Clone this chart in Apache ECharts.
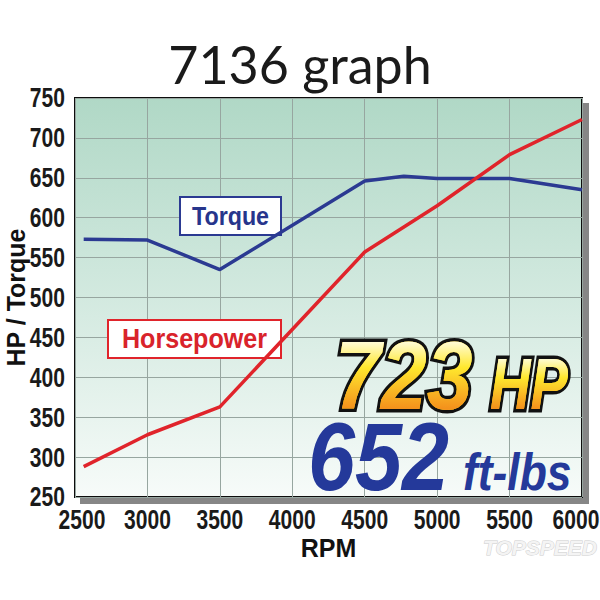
<!DOCTYPE html>
<html><head><meta charset="utf-8">
<script src="https://cdn.jsdelivr.net/npm/echarts@6/dist/echarts.min.js"></script>
<style>html,body{margin:0;padding:0;background:#fff}#c{width:600px;height:600px}</style>
</head><body><div id="c"></div>
<script>
// Data
var titleText = '7136 graph';
var xTicks = [2500, 3000, 3500, 4000, 4500, 5000, 5500, 6000];
var yTicks = [250, 300, 350, 400, 450, 500, 550, 600, 650, 700, 750];
var torqueRpm = [2560, 3000, 3500, 4500, 4770, 5000, 5500, 6000];
var torqueVals = [573, 572, 535, 646, 652, 649, 649, 635];
var hpRpm = [2560, 3000, 3500, 4500, 5000, 5500, 6000];
var hpVals = [288, 328, 363, 557, 615, 679, 723];
var peakHp = '723';
var peakTq = '652';

var chart = echarts.init(document.getElementById('c'), null, {renderer: 'svg'});
var sansB = '"Liberation Sans", Arial, sans-serif';
function pairs(xs, ys) { return xs.map(function (x, i) { return [x, ys[i]]; }); }

chart.setOption({
  animation: false,
  backgroundColor: '#fff',
  title: {
    text: titleText, left: 'center', top: 33,
    textStyle: {fontFamily: 'Lato, sans-serif', fontWeight: 'normal', fontSize: 52, color: '#1a1a1a'}
  },
  grid: {
    left: 75, right: 18, top: 98, bottom: 103, show: true, containLabel: false, outerBoundsMode: 'none',
    borderColor: '#111', borderWidth: 2,
    backgroundColor: new echarts.graphic.LinearGradient(0, 0, 0, 1, [
      {offset: 0, color: '#b0d8c6'}, {offset: 0.55, color: '#d6ebe2'}, {offset: 1, color: '#f7fbf9'}
    ]),
    shadowColor: 'rgba(70,70,70,0.65)', shadowOffsetX: 6, shadowOffsetY: 6, shadowBlur: 1
  },
  xAxis: {
    type: 'value', min: xTicks[0], max: xTicks[xTicks.length - 1], interval: 500,
    name: 'RPM', nameLocation: 'middle', nameGap: 38, nameMoveOverlap: false,
    nameTextStyle: {fontFamily: sansB, fontWeight: 'bold', fontSize: 25, color: '#111'},
    axisLine: {show: false}, axisTick: {show: false}, axisLabel: {show: false},
    splitLine: {lineStyle: {color: '#97a6a0', width: 1}}
  },
  yAxis: {
    type: 'value', min: yTicks[0], max: yTicks[yTicks.length - 1], interval: 50,
    name: 'HP / Torque', nameLocation: 'middle', nameGap: 47, nameRotate: 90, nameMoveOverlap: false,
    nameTextStyle: {fontFamily: sansB, fontWeight: 'bold', fontSize: 25, color: '#111'},
    axisLine: {show: false}, axisTick: {show: false}, axisLabel: {show: false},
    splitLine: {lineStyle: {color: '#97a6a0', width: 1}}
  },
  series: [
    {type: 'line', name: 'Torque', data: pairs(torqueRpm, torqueVals), symbol: 'none',
     lineStyle: {color: '#2b3a92', width: 3.5}},
    {type: 'line', name: 'Horsepower', data: pairs(hpRpm, hpVals), symbol: 'none',
     lineStyle: {color: '#e0242b', width: 3.5}}
  ]
});

// Tick labels (condensed look), positioned through the chart's own scales
var g = [];
var labelFont = 'bold 27px ' + sansB;
yTicks.forEach(function (v) {
  var p = chart.convertToPixel({gridIndex: 0}, [xTicks[0], v]);
  g.push({type: 'text', x: 65, y: p[1], scaleX: 0.78, style: {text: String(v), align: 'right', verticalAlign: 'middle',
    font: labelFont, fill: '#1a1a1a'}});
});
xTicks.forEach(function (v) {
  var p = chart.convertToPixel({gridIndex: 0}, [v, yTicks[0]]);
  var cx = Math.min(Math.max(p[0], 82), 576);
  g.push({type: 'text', x: cx, y: 520, scaleX: 0.78, style: {text: String(v), align: 'center', verticalAlign: 'middle',
    font: labelFont, fill: '#1a1a1a'}});
});

var YELLOW = '#ffd31b';
function bigOutlined(text, x, y, size, sx) {
  var font = 'italic bold ' + size + 'px ' + sansB;
  g.push({type: 'group', x: x, y: y, scaleX: sx, z: 100, children: [
    {type: 'text', z: 100, style: {text: text, align: 'left', verticalAlign: 'middle', font: font,
      fill: '#ffd21a', stroke: '#111', lineWidth: 7, lineJoin: 'round'}},
    {type: 'text', z: 100, style: {text: text, align: 'left', verticalAlign: 'middle', font: font, fill: YELLOW}}
  ]});
}
function big(text, x, y, size, sx, fill) {
  g.push({type: 'text', x: x, y: y, scaleX: sx, z: 101, style: {text: text, align: 'left', verticalAlign: 'middle',
    font: 'italic bold ' + size + 'px ' + sansB, fill: fill}});
}

g.push({type: 'group', x: 180, y: 197, children: [
  {type: 'rect', shape: {x: 0, y: 0, width: 101, height: 38}, style: {fill: '#fff', stroke: '#2b3a92', lineWidth: 2}},
  {type: 'text', x: 50.5, y: 19, scaleX: 0.93, style: {text: 'Torque', align: 'center', verticalAlign: 'middle',
    font: 'bold 25px ' + sansB, fill: '#27358c'}}
]});
g.push({type: 'group', x: 108, y: 320, children: [
  {type: 'rect', shape: {x: 0, y: 0, width: 173, height: 38}, style: {fill: '#fff', stroke: '#e0242b', lineWidth: 2}},
  {type: 'text', x: 86.5, y: 19, scaleX: 0.93, style: {text: 'Horsepower', align: 'center', verticalAlign: 'middle',
    font: 'bold 27px ' + sansB, fill: '#d9232b'}}
]});

bigOutlined(peakHp, 335, 376, 96, 0.86);
bigOutlined('HP', 490, 384, 72, 0.78);
big(peakTq, 308, 457, 96, 0.88, '#24399a');
big('ft-lbs', 463, 472, 51, 0.87, '#24399a');

g.push({type: 'text', x: 597, y: 547, style: {text: 'TOPSPEED', align: 'right', verticalAlign: 'middle',
  font: 'italic bold 21px ' + sansB, fill: '#f4f4f4', stroke: '#cdcdcd', lineWidth: 1}});

chart.setOption({graphic: g});

// Vertical yellow-to-orange gradient on the yellow figures; falls back to plain yellow if unsupported
var zr = chart.getZr();
var targets = [];
zr.storage.getDisplayList(true).forEach(function (el) {
  var st = el.style;
  if (st && (st.text === peakHp || st.text === 'HP') && st.fill === YELLOW) targets.push(el);
});
try {
  targets.forEach(function (el) {
    el.style.fill = new echarts.graphic.LinearGradient(0, 0, 0, 1, [
      {offset: 0.18, color: '#fffcd8'}, {offset: 0.42, color: '#ffe82e'}, {offset: 0.8, color: '#f4921c'}]);
    el.markRedraw && el.markRedraw();
  });
  zr.refreshImmediately();
} catch (e) {}
var ok = false;
document.querySelectorAll('#c svg text').forEach(function (t) {
  if (t.textContent === peakHp && /url\(/.test(t.getAttribute('fill') || '')) ok = true;
});
if (!ok) {
  targets.forEach(function (el) { el.style.fill = YELLOW; el.markRedraw && el.markRedraw(); });
  zr.refreshImmediately();
}
</script></body></html>
